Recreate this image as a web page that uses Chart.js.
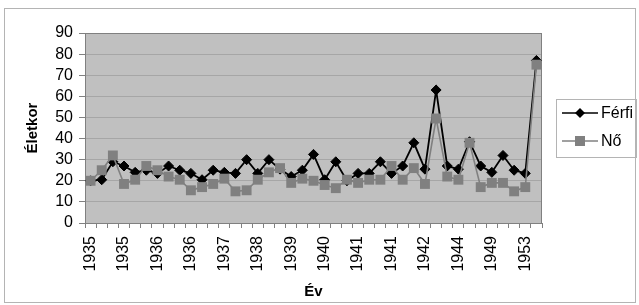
<!DOCTYPE html>
<html>
<head>
<meta charset="utf-8">
<script src="https://cdn.jsdelivr.net/npm/chart.js@4/dist/chart.umd.min.js"></script>
<style>
html,body{margin:0;padding:0;background:#fff;}
#wrap{width:639px;height:305px;position:relative;}
</style>
</head>
<body>
<div id="wrap"><canvas id="c" width="639" height="305"></canvas></div>
<script>
// Categories (41 points; only every third label is shown on the axis)
const years = [
  1935,1935,1935,1935,1935,1935,1936,1936,1936,1936,
  1936,1936,1937,1937,1937,1938,1938,1938,1939,1939,
  1939,1940,1940,1940,1941,1941,1941,1941,1941,1942,
  1942,1942,1943,1944,1944,1945,1949,1950,1952,1953,
  1953
];
const ferfi = [
  20,20.5,29,27,24,25,23.5,27,25,23.5,
  20.5,25,24,23.5,30,23.5,30,25.5,22,25,
  32.5,20.5,29,20,23.5,23.5,29,23.5,27,38,
  25.5,63,27,25.5,38.5,27,24,32,25,23.5,
  77
];
const no = [
  20,25,32,18.5,20.5,27,25,22,20.5,15.5,
  17,18.5,21,15,15.5,20.5,24,26,19,21,
  20,18,16.5,20.5,19,20.5,20.5,27,20.5,26,
  18.5,49.5,22,20.5,38,17,19,19,15,17,
  75
];
const yTicks = [0,10,20,30,40,50,60,70,80,90];
const seriesNames = ['Férfi','Nő'];

const FONT = '"Liberation Sans", Arial, sans-serif';

function legendIcon(color, style, lw){
  const cv = document.createElement('canvas');
  cv.width = 36; cv.height = 12;
  const g = cv.getContext('2d');
  g.strokeStyle = color; g.fillStyle = color; g.lineWidth = lw;
  g.beginPath(); g.moveTo(0,6); g.lineTo(36,6); g.stroke();
  g.beginPath();
  if(style==='diamond'){ g.moveTo(18,1); g.lineTo(23,6); g.lineTo(18,11); g.lineTo(13,6); g.closePath(); }
  else { g.rect(13,1,10,10); }
  g.fill();
  return cv;
}
const icons = [legendIcon('#000000','diamond',1.6), legendIcon('#808080','square',1.4)];

const framePlugin = {
  id:'frame',
  beforeDraw(chart){
    const {ctx, chartArea:a} = chart;
    ctx.save();
    ctx.fillStyle='#ffffff'; ctx.fillRect(0,0,chart.width,chart.height);
    ctx.strokeStyle='#b4b4b4'; ctx.lineWidth=1;
    ctx.strokeRect(4.5,8.5,631,294);
    ctx.fillStyle='#c0c0c0';
    ctx.fillRect(a.left,a.top,a.right-a.left,a.bottom-a.top);
    ctx.restore();
  },
  beforeDatasetsDraw(chart){
    const {ctx, chartArea:a} = chart;
    ctx.save();
    ctx.strokeStyle='#808080'; ctx.lineWidth=1;
    ctx.strokeRect(Math.round(a.left)+0.5,Math.round(a.top)+0.5,Math.round(a.right-a.left)-1,Math.round(a.bottom-a.top));
    ctx.restore();
  },
  afterDraw(chart){
    const {ctx} = chart;
    ctx.save();
    ctx.strokeStyle='#b4b4b4'; ctx.lineWidth=1;
    ctx.strokeRect(556.5,99.5,80,58);
    ctx.font = '16px ' + FONT;
    ctx.fillStyle = '#000';
    ctx.textBaseline = 'middle';
    chart.data.datasets.forEach((d,i)=>{
      const y = 113 + i*28;
      ctx.drawImage(icons[i], 562, y-6);
      ctx.fillText(d.label, 601, y+1);
    });
    ctx.restore();
  }
};

new Chart(document.getElementById('c'),{
  type:'line',
  data:{
    labels: years,
    datasets:[
      {label:seriesNames[0], data:ferfi, borderColor:'#000000', backgroundColor:'#000000', order:1,
       borderWidth:1.8, pointStyle:'rectRot', pointRadius:5, pointBorderWidth:1, tension:0},
      {label:seriesNames[1], data:no, borderColor:'#808080', backgroundColor:'#808080', order:0,
       borderWidth:1.6, pointStyle:'rect', pointRadius:7, pointBorderWidth:0, tension:0}
    ]
  },
  options:{
    responsive:false, animation:false,
    layout:{padding:{top:33,left:24,right:97,bottom:4}},
    plugins:{ tooltip:{enabled:false}, legend:{display:false} },
    scales:{
      x:{
        type:'category', offset:true,
        afterFit(s){ s.height = 78; },
        grid:{display:true, offset:true, drawOnChartArea:false, drawTicks:true, tickLength:5, color:'#808080'},
        border:{display:true,color:'#808080'},
        ticks:{autoSkip:false, maxRotation:90, minRotation:90, padding:8, color:'#000',
          font:{family:FONT,size:16},
          callback(v,i){ return i%3===0 ? String(years[i]) : ''; }},
        title:{display:true, text:'Év', color:'#000', font:{family:FONT,size:15,weight:'bold'}, padding:{top:0,bottom:0}}
      },
      y:{
        min:0, max:90,
        afterBuildTicks(s){ s.ticks = yTicks.map(v=>({value:v})); },
        afterFit(s){ s.width = 61; },
        grid:{color:'#a6a6a6', tickLength:6, drawTicks:true, tickColor:'#808080'},
        border:{display:true,color:'#808080'},
        ticks:{autoSkip:false, padding:6, color:'#000', font:{family:FONT,size:16}},
        title:{display:true, text:'Életkor', color:'#000', font:{family:FONT,size:15,weight:'bold'}, padding:{top:0,bottom:0}}
      }
    }
  },
  plugins:[framePlugin]
});
</script>
</body>
</html>
